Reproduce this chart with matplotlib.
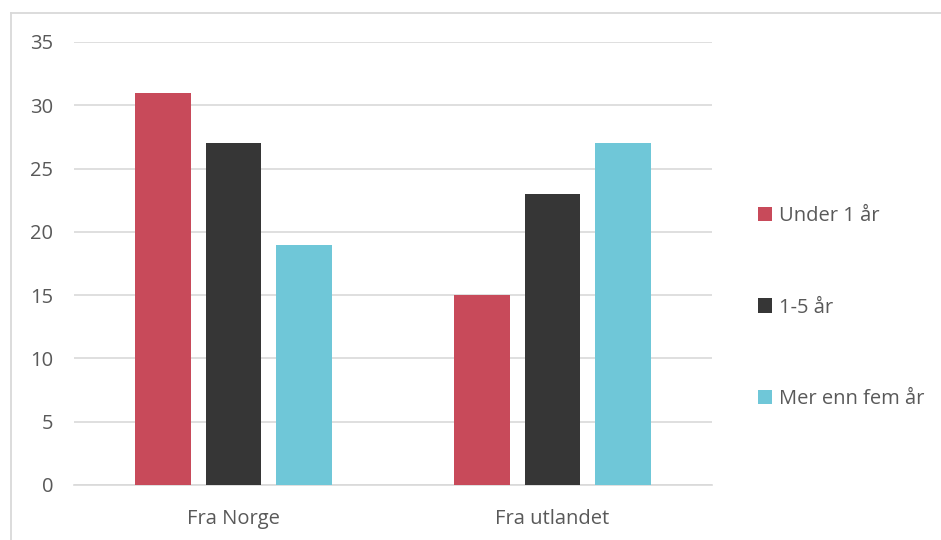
import numpy as np
import matplotlib.pyplot as plt
from matplotlib.lines import Line2D

categories = ['Fra Norge', 'Fra utlandet']
series_names = ['Under 1 år', '1-5 år', 'Mer enn fem år']
under_1 = [31, 15]
one_to_five = [27, 23]
over_five = [19, 27]
yticks = [0, 5, 10, 15, 20, 25, 30, 35]

colors = ['#C84A5A', '#363636', '#6FC7D8']
plt.rcParams['font.family'] = ['Open Sans', 'DejaVu Sans']

fig = plt.figure(figsize=(9.41, 5.40), dpi=100)
ax = fig.add_axes([74 / 941, 55 / 540, 638 / 941, 443 / 540])

x = np.arange(len(categories))
width = 0.1755
step = width + 0.047
for i, (vals, name) in enumerate(zip([under_1, one_to_five, over_five], series_names)):
    ax.bar(x + (i - 1) * step, vals, width, color=colors[i], label=name, zorder=3)

ax.set_xlim(-0.5, 1.5)
ax.set_ylim(0, 35)
ax.set_yticks(yticks)
ax.set_xticks(x)
ax.set_xticklabels(categories)
ax.grid(axis='y', color='#D9D9D9', linewidth=1.2, zorder=0)
for s in ['top', 'right', 'left']:
    ax.spines[s].set_visible(False)
ax.spines['bottom'].set_color('#D9D9D9')
ax.spines['bottom'].set_linewidth(1.2)
ax.tick_params(axis='y', length=0, pad=15, labelsize=14.5, labelcolor='#595959')
ax.tick_params(axis='x', length=0, pad=17, labelsize=14.5, labelcolor='#595959')

fig.legend(loc='center left', bbox_to_anchor=(748 / 941, 0.4305), frameon=False,
           fontsize=14.5, labelcolor='#595959', labelspacing=3.55, borderpad=0,
           handlelength=0.7, handleheight=0.7, handletextpad=0.35)

# outer chart frame
fig.add_artist(Line2D([10.5 / 941, 10.5 / 941], [0, 1 - 13 / 540], color='#D9D9D9', linewidth=1.3))
fig.add_artist(Line2D([10.5 / 941, 1], [1 - 13 / 540, 1 - 13 / 540], color='#D9D9D9', linewidth=1.3))

fig.savefig('out.png', dpi=100)
